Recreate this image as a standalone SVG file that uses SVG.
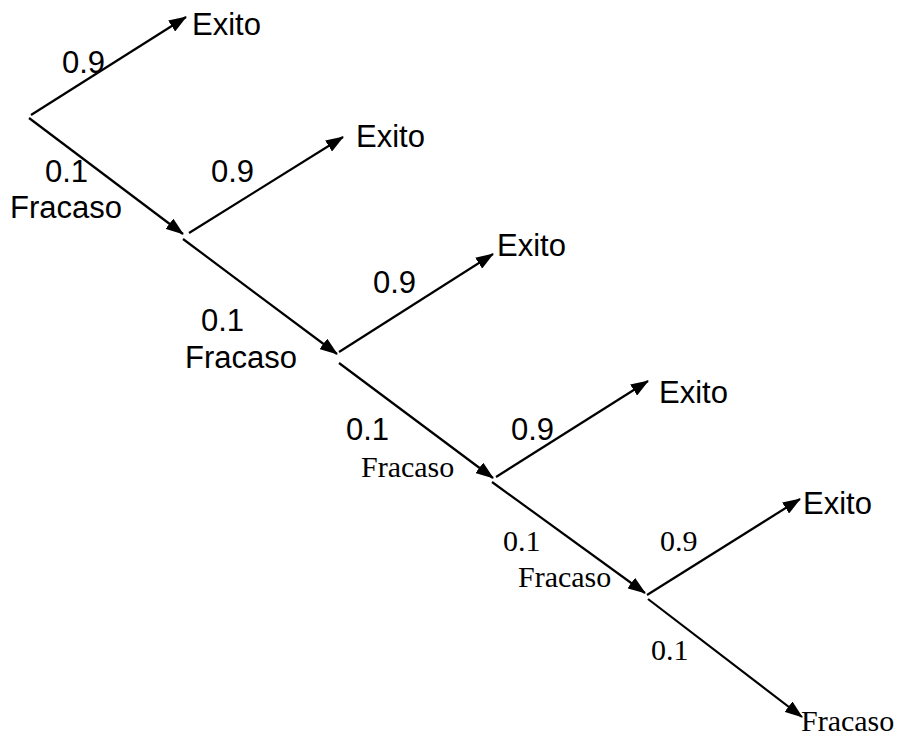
<svg xmlns="http://www.w3.org/2000/svg" width="901" height="737" viewBox="0 0 901 737">
<style>
.e{stroke:#000;stroke-width:2.2;fill:none;marker-end:url(#ah)}
.s{font-family:"Liberation Sans",Arial,sans-serif;font-size:31px;fill:#000}
.r{font-family:"Liberation Serif","Times New Roman",serif;font-size:30px;fill:#000}
</style>
<defs>
<marker id="ah" markerWidth="18" markerHeight="13" refX="17" refY="6.5" orient="auto" markerUnits="userSpaceOnUse">
<path d="M0,0 L18,6.5 L0,13 Z" fill="#000"/>
</marker>
</defs>
<rect width="901" height="737" fill="#fff"/>
<g id="connectors">
<line class="e" x1="31" y1="115" x2="186" y2="17"/>
<line class="e" x1="29" y1="118" x2="183" y2="234"/>
<line class="e" x1="189" y1="233" x2="343" y2="137"/>
<line class="e" x1="183" y1="239" x2="337" y2="354"/>
<line class="e" x1="339" y1="352" x2="493" y2="254"/>
<line class="e" x1="339" y1="363" x2="493" y2="478"/>
<line class="e" x1="496" y1="477" x2="648" y2="381"/>
<line class="e" x1="492" y1="482" x2="645" y2="593"/>
<line class="e" x1="647" y1="595" x2="800" y2="499"/>
<line class="e" x1="648" y1="599" x2="802" y2="717"/>
</g>
<g id="n1">
<text class="s" x="192" y="35">Exito</text>
<text class="s" x="62" y="73">0.9</text>
<text class="s" x="45" y="182">0.1</text>
<text class="s" x="10" y="218">Fracaso</text>
</g>
<g id="n2">
<text class="s" x="356" y="147">Exito</text>
<text class="s" x="211" y="182">0.9</text>
<text class="s" x="201" y="331">0.1</text>
<text class="s" x="185" y="368">Fracaso</text>
</g>
<g id="n3">
<text class="s" x="497" y="256">Exito</text>
<text class="s" x="373" y="293">0.9</text>
<text class="s" x="346" y="440">0.1</text>
<text class="r" x="361" y="477">Fracaso</text>
</g>
<g id="n4">
<text class="s" x="659" y="403">Exito</text>
<text class="s" x="511" y="440">0.9</text>
<text class="r" x="503" y="551">0.1</text>
<text class="r" x="518" y="587">Fracaso</text>
</g>
<g id="n5">
<text class="s" x="803" y="514">Exito</text>
<text class="r" x="660" y="551">0.9</text>
<text class="r" x="651" y="660">0.1</text>
<text class="r" x="801" y="731">Fracaso</text>
</g>
</svg>
